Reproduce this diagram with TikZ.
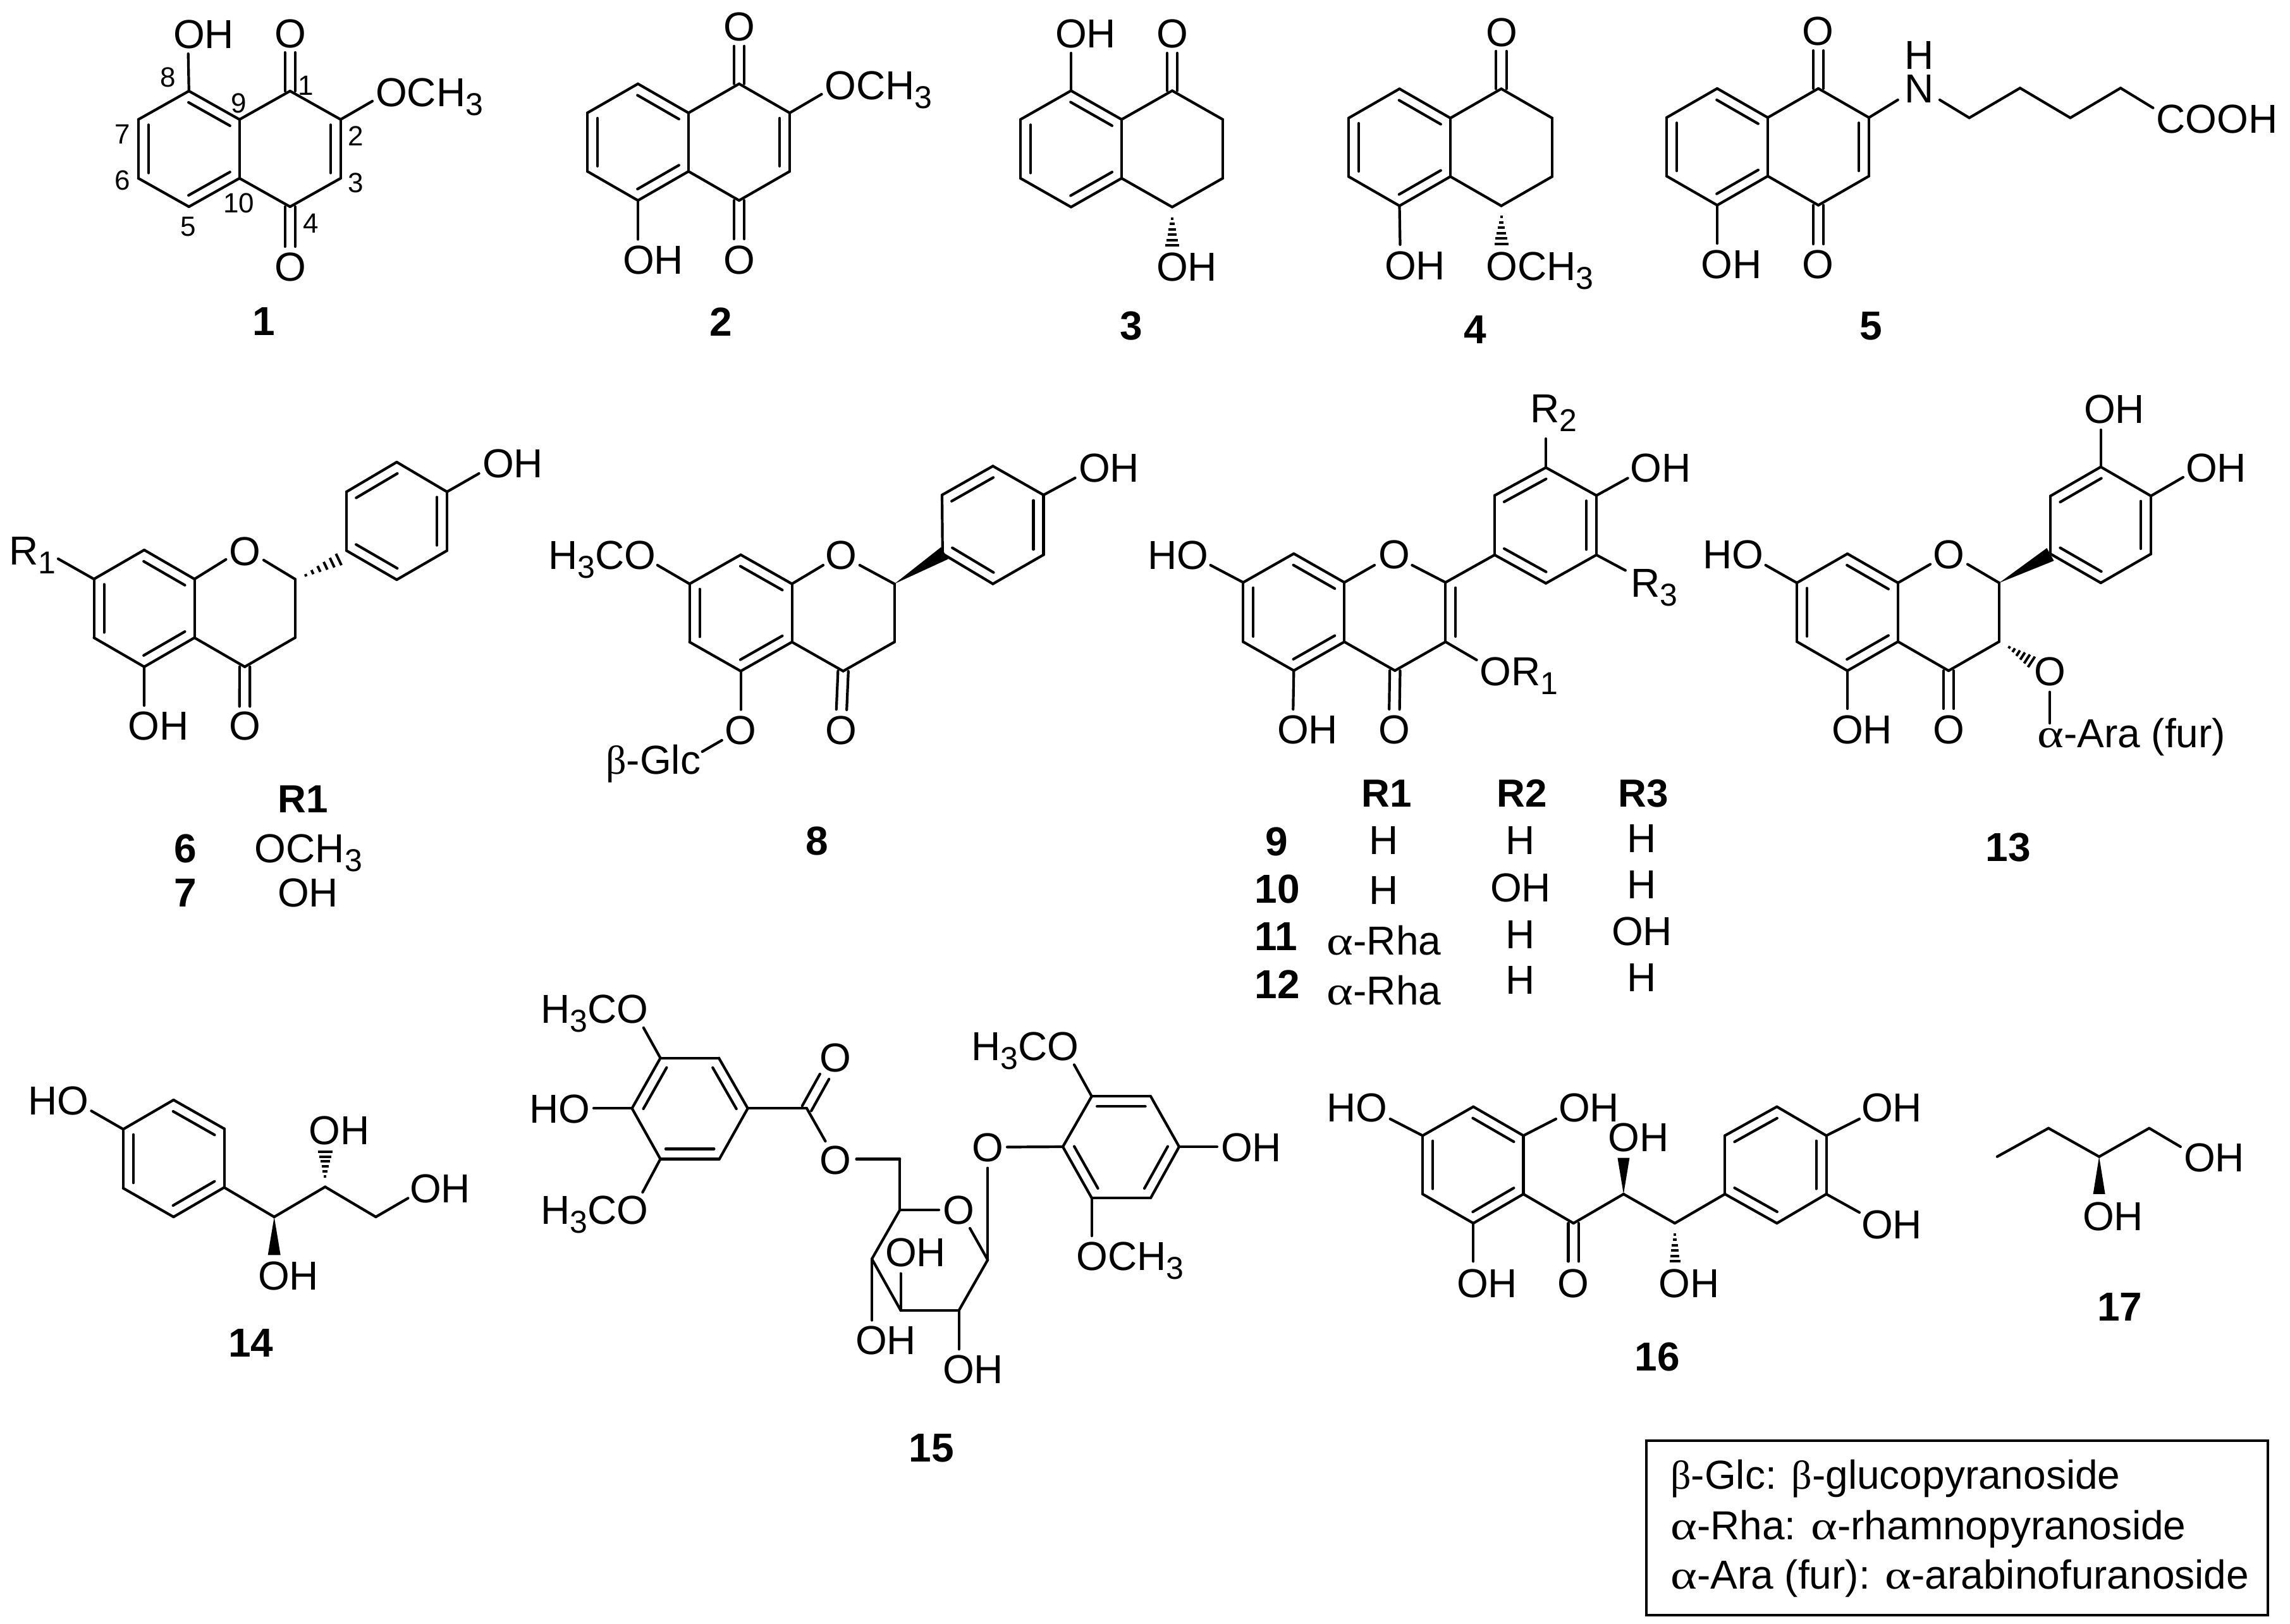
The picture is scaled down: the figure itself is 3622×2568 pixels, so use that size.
\documentclass[tikz,border=0pt]{standalone}
\usepackage{fontspec}
\usepackage{graphicx}
\setmainfont{Liberation Sans}
\newfontfamily\grk{Liberation Serif}
\usetikzlibrary{calc}
\tikzset{
  bd/.style={line width=4.2pt,line cap=round,line join=miter,draw=black},
  hs/.style={line width=4pt,line cap=butt,draw=black},
  lb/.style={inner sep=0pt,font=\fontsize{64}{70}\selectfont,text=black},
  lc/.style={lb,anchor=base},
  lw/.style={lb,anchor=base west},
  nm/.style={inner sep=0pt,anchor=base,font=\fontsize{64}{70}\selectfont\bfseries,text=black},
  hd/.style={inner sep=0pt,anchor=base,font=\fontsize{62}{70}\selectfont\bfseries,text=black},
  lo/.style={inner sep=0pt,anchor=base,font=\fontsize{44}{50}\selectfont,text=black},
}
\newcommand\Sbb[1]{\raisebox{-14pt}{\fontsize{50}{50}\selectfont #1}}
\newcommand\Alp{\scalebox{1.25}[1]{\grk α}}
\newcommand\Bet{{\grk β}}
% coordinates from a list name/x/y
\newcommand\PtS[1]{\foreach \n/\x/\y in {#1}{\coordinate (\n) at (\x,\y);}}
% fused bicycle: name, shared-bond x, top y, half width, rise, side
\newcommand\BiCy[6]{%
  \coordinate (#1st) at (#2,#3);
  \coordinate (#1sb) at (#2,{#3+#6});
  \coordinate (#1lt) at ({#2-#4},{#3-#5});
  \coordinate (#1lu) at ({#2-2*#4},#3);
  \coordinate (#1ll) at ({#2-2*#4},{#3+#6});
  \coordinate (#1lb) at ({#2-#4},{#3+#6+#5});
  \coordinate (#1rt) at ({#2+#4},{#3-#5});
  \coordinate (#1ru) at ({#2+2*#4},#3);
  \coordinate (#1rl) at ({#2+2*#4},{#3+#6});
  \coordinate (#1rb) at ({#2+#4},{#3+#6+#5});
}
\newcommand\BdS[1]{\foreach \a/\b in {#1}{\draw[bd] (\a)--(\b);}}
% inner line of a ring double bond; a->b clockwise on the page
\newcommand\InS[1]{\foreach \a/\b in {#1}{\draw[bd] ($(\a)!.09!(\b)!16pt!-90:(\b)$)--($(\b)!.09!(\a)!16pt!90:(\a)$);}}
% exocyclic double bond
\newcommand\DbS[1]{\foreach \a/\b in {#1}{\draw[bd] ($(\a)!8.2pt!90:(\b)$)--($(\b)!8.2pt!-90:(\a)$);\draw[bd] ($(\a)!8.2pt!-90:(\b)$)--($(\b)!8.2pt!90:(\a)$);}}
% wedge: tip, base, half width
\newcommand\WdG[3]{\fill[black] (#1)--($(#2)!#3pt!90:(#1)$)--($(#2)!#3pt!-90:(#1)$)--cycle;}
% hash: start, end, half widths
\newcommand\HsH[4]{%
  \coordinate (hq) at ($(#1)!2!(#2)$);
  \foreach \i in {0,...,5}{%
    \pgfmathsetmacro\tt{\i/5}\pgfmathsetmacro\ww{#3+(#4-#3)*\tt}%
    \draw[hs] ($(#1)!\tt!(#2)!\ww pt!90:(hq)$)--($(#1)!\tt!(#2)!\ww pt!-90:(hq)$);}}
\begin{document}
\begin{tikzpicture}[x=1pt,y=-1pt]
\useasboundingbox (0,0) rectangle (3622,2568);
\fill[white] (0,0) rectangle (3622,2568);

% ---------- 1
\BiCy{a}{378.8}{189}{80}{45}{93}
\PtS{ao/297.7/85,aot/458.8/83,aob/458.8/390,aom/589/160}
\BdS{alt/alu,alu/all,all/alb,alb/asb,asb/ast,ast/alt,ast/art,art/aru,aru/arl,arl/arb,arb/asb,alt/ao,aru/aom}
\InS{alt/ast,all/alu,asb/alb,aru/arl}
\DbS{art/aot,arb/aob}
\node[lc] (aOH) at (322,76) {OH};
\node[lc] (aO1) at (459,75) {O};
\node[lc] (aO2) at (459,444) {O};
\node[lw] (aOM) at (594,168) {OCH\Sbb{3}};
\node[lo] (l8) at (266,137) {8};
\node[lo] (l1) at (484,150) {1};
\node[lo] (l9) at (378,178) {9};
\node[lo] (l7) at (194,227) {7};
\node[lo] (l2) at (563,230) {2};
\node[lo] (l6) at (194,300) {6};
\node[lo] (l3) at (563,304) {3};
\node[lo] (l10) at (378,336) {10};
\node[lo] (l5) at (298,373) {5};
\node[lo] (l4) at (492,368) {4};
\node[nm] (n1) at (417,530) {1};

% ---------- 2
\BiCy{b}{1089}{178.6}{80}{46}{92.5}
\PtS{bo/1009/378.6,bot/1169/73,bob/1169/378,bom/1299.5/149}
\BdS{blt/blu,blu/bll,bll/blb,blb/bsb,bsb/bst,bst/blt,bst/brt,brt/bru,bru/brl,brl/brb,brb/bsb,blb/bo,bru/bom}
\InS{blt/bst,bll/blu,bsb/blb,bru/brl}
\DbS{brt/bot,brb/bob}
\node[lc] (bOH) at (1033,433) {OH};
\node[lc] (bO1) at (1169,64) {O};
\node[lc] (bO2) at (1169,433) {O};
\node[lw] (bOM) at (1304,157) {OCH\Sbb{3}};
\node[nm] (n2) at (1140,531) {2};

% ---------- 3
\BiCy{c}{1774}{189}{80}{45.5}{93}
\PtS{co/1694/84,cot/1854/84,chs/1854/346,che/1854/388}
\BdS{clt/clu,clu/cll,cll/clb,clb/csb,csb/cst,cst/clt,cst/crt,crt/cru,cru/crl,crl/crb,crb/csb,clt/co}
\InS{clt/cst,cll/clu,csb/clb}
\DbS{crt/cot}
\HsH{chs}{che}{2}{11}
\node[lc] (cOH) at (1717,75) {OH};
\node[lc] (cO1) at (1854,75) {O};
\node[lc] (cO2) at (1877,444.6) {OH};
\node[nm] (n3) at (1789,537) {3};

% ---------- 4
\BiCy{d}{2294}{186.8}{80.5}{46.3}{92.5}
\PtS{do/2214.5/387,dot/2374.5/81,dhs/2374.5/343,dhe/2374.5/386}
\BdS{dlt/dlu,dlu/dll,dll/dlb,dlb/dsb,dsb/dst,dst/dlt,dst/drt,drt/dru,dru/drl,drl/drb,drb/dsb,dlb/do}
\InS{dlt/dst,dll/dlu,dsb/dlb}
\DbS{drt/dot}
\HsH{dhs}{dhe}{2}{11}
\node[lc] (dO1) at (2375,73) {O};
\node[lc] (dOH) at (2238,442) {OH};
\node[lw] (dOM) at (2350,443) {OCH\Sbb{3}};
\node[nm] (n4) at (2333,543) {4};

% ---------- 5
\BiCy{e}{2796}{186}{80}{46}{92.6}
\PtS{eo/2716/385,eot/2876/80,eob/2876/386,en/3001.7/158,eca/3068/158,ecb/3114.7/186.4,ecc/3195/139.3,ecd/3274.5/186.4,ece/3354/139.3,ecf/3405.4/170.7}
\BdS{elt/elu,elu/ell,ell/elb,elb/esb,esb/est,est/elt,est/ert,ert/eru,eru/erl,erl/erb,erb/esb,elb/eo,eru/en,eca/ecb,ecb/ecc,ecc/ecd,ecd/ece,ece/ecf}
\InS{elt/est,ell/elu,esb/elb,eru/erl}
\DbS{ert/eot,erb/eob}
\node[lc] (eO1) at (2875,71) {O};
\node[lc] (eO2) at (2875,440) {O};
\node[lc] (eOH) at (2738.5,440) {OH};
\node[lc] (eH) at (3035.6,109) {H};
\node[lc] (eN) at (3035.6,162.5) {N};
\node[lw] (eCO) at (3410,210) {COOH};
\node[nm] (n5) at (2959,537.5) {5};

% ---------- 6/7
\BiCy{f}{307.6}{916}{79.5}{46}{92.8}
\PtS{fox/357.4/885,foy/417/886,fha/483.7/910,fhb/535.7/885,fpa/548/871,fpb/627.5/917,fpc/707/871,fpd/707/778,fpe/627.5/731,fpf/548/778,fo/757.6/749,fot/387/1117.5,foh/228/1116,fr/92/884}
\BdS{flt/flu,flu/fll,fll/flb,flb/fsb,fsb/fst,fst/flt,fst/fox,foy/fru,fru/frl,frl/frb,frb/fsb,flb/foh,flu/fr,fpa/fpb,fpb/fpc,fpc/fpd,fpd/fpe,fpe/fpf,fpf/fpa,fpd/fo}
\InS{flt/fst,fll/flu,fsb/flb,fpb/fpa,fpd/fpc,fpf/fpe}
\DbS{frb/fot}
\HsH{fha}{fhb}{2}{10}
\node[lc] (fOr) at (387,894) {O};
\node[lc] (fOH1) at (811,755) {OH};
\node[lc] (fO2) at (387,1170) {O};
\node[lc] (fOH2) at (250.6,1170) {OH};
\node[lw] (fR) at (14,893) {R\Sbb{1}};
\node[hd] (fh) at (479,1285) {R1};
\node[nm] (n6) at (293,1364) {6};
\node[lw] (fM) at (402.6,1364) {OCH\Sbb{3}};
\node[nm] (n7) at (293,1434) {7};
\node[lc] (fO7) at (487,1434) {OH};

% ---------- 8
\BiCy{g}{1252.6}{923.6}{81}{46}{92}
\PtS{gox/1302/894,goy/1359.7/894,gm/1039.8/894,gpa/1490.8/876,gpb/1570.4/923.6,gpc/1650.5/877.6,gpd/1650.5/783,gpe/1570.4/737.3,gpf/1490/783,gw/1494/875,go/1700.5/756,got/1331/1122.5,goo/1171.6/1122.5,gga/1141.8/1171,ggb/1110.7/1189}
\BdS{glt/glu,glu/gll,gll/glb,glb/gsb,gsb/gst,gst/glt,gst/gox,goy/gru,gru/grl,grl/grb,grb/gsb,glb/goo,glu/gm,gga/ggb,gpa/gpb,gpb/gpc,gpc/gpd,gpd/gpe,gpe/gpf,gpf/gpa,gpd/go}
\InS{glt/gst,gll/glu,gsb/glb,gpb/gpa,gpd/gpc,gpf/gpe}
\DbS{grb/got}
\WdG{gru}{gw}{11}
\node[lc] (gOr) at (1330.6,900.6) {O};
\node[lc] (gOH) at (1754,762) {OH};
\node[lw] (gM) at (867,900.6) {H\Sbb{3}CO};
\node[lc] (gO2) at (1171,1177) {O};
\node[lc] (gO3) at (1330.6,1177) {O};
\node[lw] (gG) at (958,1224.6) {\Bet-Glc};
\node[nm] (n8) at (1292,1352) {8};

% ---------- 9-12
\BiCy{h}{2126.3}{921.3}{80}{45.5}{94}
\PtS{hox/2174/894,hoy/2233.4/894,hpa/2364/877.8,hpb/2445/922.7,hpc/2525/877.8,hpd/2525/783.8,hpe/2445/739.6,hpf/2364/783.8,hr/2445/694,ho/2574.6/756.4,hq3/2570.8/902.3,hho/1914.5/894,hoh/2045.3/1122,hot/2205.4/1122,hor/2335.5/1044}
\BdS{hlt/hlu,hlu/hll,hll/hlb,hlb/hsb,hsb/hst,hst/hlt,hst/hox,hoy/hru,hru/hrl,hrl/hrb,hrb/hsb,hlu/hho,hlb/hoh,hrl/hor,hru/hpa,hpa/hpb,hpb/hpc,hpc/hpd,hpd/hpe,hpe/hpf,hpf/hpa,hpe/hr,hpd/ho,hpc/hq3}
\InS{hlt/hst,hll/hlu,hsb/hlb,hrl/hru,hpb/hpa,hpd/hpc,hpf/hpe}
\DbS{hrb/hot}
\node[lc] (hOr) at (2205.4,899) {O};
\node[lc] (hHO) at (1863.5,900) {HO};
\node[lc] (hOH) at (2626.5,762) {OH};
\node[lw] (hR2) at (2420,668.7) {R\Sbb{2}};
\node[lw] (hR3) at (2579,944.4) {R\Sbb{3}};
\node[lc] (hOH2) at (2068,1176) {OH};
\node[lc] (hO2) at (2205.4,1176) {O};
\node[lw] (hOR) at (2340,1084.7) {OR\Sbb{1}};
\node[hd] (tR1) at (2193,1276) {R1};
\node[hd] (tR2) at (2407.5,1276) {R2};
\node[hd] (tR3) at (2599.5,1276) {R3};
\node[nm] (n9) at (2019,1353) {9};
\node[nm] (n10) at (2020,1428.5) {10};
\node[nm] (n11) at (2018,1503.5) {11};
\node[nm] (n12) at (2020,1579) {12};
\node[lc] (ta1) at (2189,1351) {H};
\node[lc] (ta2) at (2189,1430) {H};
\node[lc] (ta3) at (2189,1510.5) {\Alp-Rha};
\node[lc] (ta4) at (2189,1589) {\Alp-Rha};
\node[lc] (tb1) at (2405,1351) {H};
\node[lc] (tb2) at (2405,1426) {OH};
\node[lc] (tb3) at (2405,1500) {H};
\node[lc] (tb4) at (2405,1572) {H};
\node[lc] (tc1) at (2597,1348) {H};
\node[lc] (tc2) at (2597,1421.5) {H};
\node[lc] (tc3) at (2597,1495) {OH};
\node[lc] (tc4) at (2597,1568.7) {H};

% ---------- 13
\BiCy{i}{3002}{922}{80}{46}{93}
\PtS{iox/3053/892.6,ioy/3112/892.6,ipa/3243.3/876.3,ipb/3322.7/922,ipc/3402/876.3,ipd/3402/784.5,ipe/3322.7/738.6,ipf/3243.3/784.5,iw/3243/877,ia/3322.7/680,ib/3452.9/755,iho/2792.6/894,ioh/2922/1121,iot/3082/1121,iha/3178/1024,ihb/3213/1047,ioa/3242/1094.7,iob/3242/1144}
\BdS{ilt/ilu,ilu/ill,ill/ilb,ilb/isb,isb/ist,ist/ilt,ist/iox,ioy/iru,iru/irl,irl/irb,irb/isb,ilu/iho,ilb/ioh,ipa/ipb,ipb/ipc,ipc/ipd,ipd/ipe,ipe/ipf,ipf/ipa,ipe/ia,ipd/ib,ioa/iob}
\InS{ilt/ist,ill/ilu,isb/ilb,ipb/ipa,ipd/ipc,ipf/ipe}
\DbS{irb/iot}
\WdG{iru}{iw}{11.5}
\HsH{iha}{ihb}{2}{10}
\node[lc] (iOr) at (3082,899) {O};
\node[lc] (iOH1) at (3344,669.7) {OH};
\node[lc] (iOH2) at (3505,762.5) {OH};
\node[lc] (iHO) at (2741,899) {HO};
\node[lc] (iOH3) at (2945,1176) {OH};
\node[lc] (iO2) at (3082,1176) {O};
\node[lc] (iO3) at (3242,1084.5) {O};
\node[lw] (iAra) at (3222,1182) {\Alp-Ara (fur)};
\node[nm] (n13) at (3176,1362) {13};

% ---------- 14
\PtS{ja/274.5/1740,jb/354.6/1785.5,jc/354.6/1878.4,jd/274.5/1925,je/194.9/1879.6,jf/194.9/1786.3,jho/144.4/1757.3,jg/433.7/1925,jh/514.3/1877.5,ji/594.4/1925,jo/645.4/1895.4,jha/514.3/1861,jhb/514.3/1821.6,jw/433.7/1985.3}
\BdS{ja/jb,jb/jc,jc/jd,jd/je,je/jf,jf/ja,jf/jho,jc/jg,jg/jh,jh/ji,ji/jo}
\InS{ja/jb,jc/jd,je/jf}
\WdG{jg}{jw}{10}
\HsH{jha}{jhb}{2}{11.5}
\node[lc] (jHO) at (92.6,1763.5) {HO};
\node[lc] (jOH1) at (696,1902.4) {OH};
\node[lc] (jOH2) at (536.5,1810) {OH};
\node[lc] (jOH3) at (456,2040.5) {OH};
\node[nm] (n14) at (397,2146) {14};

% ---------- 15
\PtS{ka/1044.5/1673.7,kb/1137/1673.7,kc/1182.7/1753.3,kd/1137.8/1833.4,ke/1044.5/1833.4,kf/999.6/1753.3,kma/1017.8/1625.7,kho/939/1753.3,kmb/1016.4/1886,kg/1276/1753.3,kgo/1304/1703,kgx/1305.5/1805.3,kgy/1354.5/1833.4,kh/1423.3/1833.4,ki/1423.3/1914,kox/1485/1914,koy/1534.1/1943,kj/1562.2/1993,kk/1516.6/2073,kl/1424.7/2073,km/1379/1991.5,kla/1424.7/2014.5,kmo/1379/2088.5,kko/1516.6/2134.4,kjo/1562.2/1847.7,kp/1726.7/1734.3,kq/1820/1734.3,kr/1865/1814,ks/1820/1895,kt/1726.7/1895,ku/1681/1814,kuo/1593/1814.5,kpo/1699/1684.3,kro/1925/1814,kto/1726.7/1955}
\BdS{ka/kb,kb/kc,kc/kd,kd/ke,ke/kf,kf/ka,ka/kma,kf/kho,ke/kmb,kc/kg,kg/kgx,kgy/kh,kh/ki,ki/kox,koy/kj,kj/kk,kk/kl,kl/km,km/ki,kl/kla,km/kmo,kk/kko,kj/kjo,kuo/ku,kp/kq,kq/kr,kr/ks,ks/kt,kt/ku,ku/kp,kp/kpo,kr/kro,kt/kto}
\InS{kf/ka,kb/kc,kd/ke,kp/kq,kr/ks,kt/ku}
\DbS{kg/kgo}
\node[lw] (kM1) at (855,1618) {H\Sbb{3}CO};
\node[lc] (kHO) at (885,1776) {HO};
\node[lw] (kM2) at (855,1936.4) {H\Sbb{3}CO};
\node[lc] (kO1) at (1321.6,1695.6) {O};
\node[lc] (kO2) at (1321.6,1857.3) {O};
\node[lc] (kOr) at (1515.9,1936.4) {O};
\node[lc] (kOH1) at (1448,2003.3) {OH};
\node[lc] (kOH2) at (1401,2142) {OH};
\node[lc] (kOH3) at (1539,2188) {OH};
\node[lc] (kO3) at (1562.2,1837) {O};
\node[lw] (kM3) at (1536,1677.8) {H\Sbb{3}CO};
\node[lc] (kOH4) at (1979,1837.3) {OH};
\node[lw] (kM4) at (1702,2009.3) {OCH\Sbb{3}};
\node[nm] (n15) at (1473,2312) {15};

% ---------- 16
\PtS{ma/2330.3/1750.7,mb/2409.5/1796.4,mc/2409.5/1888.9,md/2330.3/1935,me/2250.1/1888.9,mf/2250.1/1796.4,mho/2198.7/1770,mob/2461/1770,mod/2330.3/1995.4,mg/2488.7/1935,mh/2567.9/1888.9,mi/2649/1935,mj/2728.2/1888.9,mgo/2488.7/1995.4,mw/2567.9/1831.5,mha/2649/1953,mhb/2649/1995,mk/2810.4/1935,ml/2888.6/1888.9,mm/2888.6/1796.4,mn/2810.4/1750.7,mo/2728.2/1796.4,mma/2941/1770,mla/2941/1918}
\BdS{ma/mb,mb/mc,mc/md,md/me,me/mf,mf/ma,mf/mho,mb/mob,md/mod,mc/mg,mg/mh,mh/mi,mi/mj,mj/mk,mk/ml,ml/mm,mm/mn,mn/mo,mo/mj,mm/mma,ml/mla}
\InS{ma/mb,mc/md,me/mf,mk/mj,mm/ml,mo/mn}
\DbS{mg/mgo}
\WdG{mh}{mw}{9.5}
\HsH{mha}{mhb}{2}{8.5}
\node[lc] (mHO) at (2146.7,1774) {HO};
\node[lc] (mOH1) at (2513,1774) {OH};
\node[lc] (mOH2) at (2352,2052) {OH};
\node[lc] (mO) at (2488.7,2052) {O};
\node[lc] (mOH3) at (2591.5,1821.5) {OH};
\node[lc] (mOH4) at (2671.5,2052) {OH};
\node[lc] (mOH5) at (2992,1774) {OH};
\node[lc] (mOH6) at (2992,1959) {OH};
\node[nm] (n16) at (2621,2168) {16};

% ---------- 17
\PtS{pa/3158.8/1829.7,pb/3240/1784.7,pc/3320.1/1829.7,pd/3399.3/1784.7,pe/3448.8/1814,pw/3320.1/1888.9}
\BdS{pa/pb,pb/pc,pc/pd,pd/pe}
\WdG{pc}{pw}{9.5}
\node[lc] (pOH1) at (3502,1853.7) {OH};
\node[lc] (pOH2) at (3342,1946.8) {OH};
\node[nm] (n17) at (3352.6,2089) {17};

% ---------- legend
\node[draw=black,line width=4.5pt,minimum width=983pt,minimum height=276pt,inner sep=0pt,anchor=north west] (box) at (2601.5,2276.5) {};
\node[lw] (k1) at (2642,2355.5) {\Bet-Glc: \Bet-glucopyranoside};
\node[lw] (k2) at (2642,2435.7) {\Alp-Rha: \Alp-rhamnopyranoside};
\node[lw] (k3) at (2642,2513.6) {\Alp-Ara (fur): \Alp-arabinofuranoside};
\end{tikzpicture}
\end{document}
